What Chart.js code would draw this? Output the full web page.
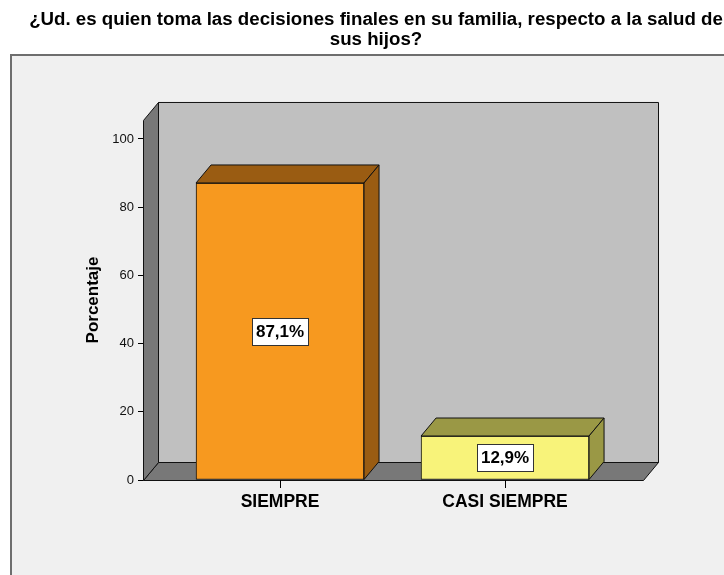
<!DOCTYPE html>
<html>
<head>
<meta charset="utf-8">
<script src="https://cdn.jsdelivr.net/npm/chart.js@4.4.1/dist/chart.umd.min.js"></script>
<style>
  body { margin: 0; background: #fff; }
  #wrap { width: 724px; height: 575px; }
</style>
</head>
<body>
<div id="wrap"><canvas id="chart"></canvas></div>
<script>
const titleLines = ['¿Ud. es quien toma las decisiones finales en su familia, respecto a la salud de', 'sus hijos?'];
const categories = ['SIEMPRE', 'CASI SIEMPRE'];
const percentages = [87.1, 12.9];
const percentLabels = ['87,1%', '12,9%'];
const yTicks = [0, 20, 40, 60, 80, 100];
const frontColors = ['#f7991f', '#f8f37a'];
const shadeColors = ['#9a5c12', '#9a9845'];

const DX = 15, DY = -18; // depth of the 3d box
const FONT = "'Liberation Sans', Arial, sans-serif";

function poly(ctx, pts, fill) {
  ctx.beginPath();
  ctx.moveTo(pts[0][0], pts[0][1]);
  for (let i = 1; i < pts.length; i++) ctx.lineTo(pts[i][0], pts[i][1]);
  ctx.closePath();
  ctx.fillStyle = fill;
  ctx.fill();
  ctx.stroke();
}

const box3d = {
  id: 'box3d',
  beforeDraw(chart) {
    const ctx = chart.ctx, a = chart.chartArea;
    ctx.save();
    // grey panel behind the chart
    ctx.fillStyle = '#f0f0f0';
    ctx.fillRect(10, 54, 800, 600);
    ctx.strokeStyle = '#6e6e6e';
    ctx.lineWidth = 2;
    ctx.strokeRect(11, 55, 800, 600);

    ctx.lineWidth = 1;
    ctx.strokeStyle = '#111';
    const L = a.left + 0.5, R = a.right + 0.5, T = a.top + 0.5, B = a.bottom + 0.5;
    poly(ctx, [[L + DX, T + DY], [R + DX, T + DY], [R + DX, B + DY], [L + DX, B + DY]], '#c0c0c0');
    poly(ctx, [[L, B], [R, B], [R + DX, B + DY], [L + DX, B + DY]], '#787878');
    poly(ctx, [[L, T], [L + DX, T + DY], [L + DX, B + DY], [L, B]], '#787878');
    ctx.restore();
  },
  afterDatasetsDraw(chart) {
    const ctx = chart.ctx;
    const meta = chart.getDatasetMeta(0);
    ctx.save();
    ctx.lineWidth = 1;
    ctx.strokeStyle = '#111';
    meta.data.forEach((bar, i) => {
      const p = bar.getProps(['x', 'y', 'base', 'width'], true);
      const x0 = p.x - p.width / 2, x1 = p.x + p.width / 2;
      // top and side faces
      poly(ctx, [[x0, p.y], [x1, p.y], [x1 + DX, p.y + DY], [x0 + DX, p.y + DY]], shadeColors[i]);
      poly(ctx, [[x1, p.y], [x1 + DX, p.y + DY], [x1 + DX, p.base + DY], [x1, p.base]], shadeColors[i]);

      // value label box
      ctx.font = 'bold 17px ' + FONT;
      const tw = ctx.measureText(percentLabels[i]).width;
      const bw = Math.round(tw + 8), bh = 27;
      const cy = (p.y + p.base) / 2;
      const bx = Math.round(p.x - bw / 2) + 0.5, by = Math.round(cy - bh / 2) + 0.5;
      ctx.fillStyle = '#fff';
      ctx.fillRect(bx, by, bw, bh);
      ctx.strokeStyle = '#333';
      ctx.strokeRect(bx, by, bw, bh);
      ctx.fillStyle = '#000';
      ctx.textAlign = 'center';
      ctx.textBaseline = 'middle';
      ctx.fillText(percentLabels[i], p.x, cy + 1);
      ctx.strokeStyle = '#111';
    });
    ctx.restore();
  }
};

new Chart(document.getElementById('chart'), {
  type: 'bar',
  data: {
    datasets: [{
      data: percentages.map((v, i) => ({ x: i, y: v })),
      backgroundColor: frontColors,
      borderColor: '#111',
      borderWidth: 1,
      borderSkipped: false,
      barThickness: 168
    }]
  },
  options: {
    responsive: true,
    maintainAspectRatio: false,
    animation: false,
    layout: { padding: { left: 28, right: 0, top: 0, bottom: 0 } },
    plugins: {
      legend: { display: false },
      tooltip: { enabled: false },
      title: {
        display: true,
        text: titleLines,
        color: '#000',
        font: { family: FONT, size: 18.7, weight: 'bold', lineHeight: 1.05 },
        padding: { top: 10, bottom: 70.7 }
      }
    },
    scales: {
      x: {
        type: 'linear',
        offset: false,
        min: -0.609,
        max: 1.613,
        afterBuildTicks: s => { s.ticks = categories.map((c, i) => ({ value: i })); },
        afterFit: s => { s.height = 95; },
        grid: { drawOnChartArea: false, offset: false, tickLength: 8, color: '#000' },
        border: { display: false },
        ticks: {
          callback: v => categories[v],
          color: '#000',
          padding: 4,
          maxRotation: 0,
          autoSkip: false,
          font: { family: FONT, size: 17.5, weight: 'bold' }
        }
      },
      y: {
        min: 0,
        max: 105.57,
        afterBuildTicks: s => { s.ticks = yTicks.map(v => ({ value: v })); },
        afterFit: s => { s.width = 115; },
        grid: { drawOnChartArea: false, tickLength: 5, color: '#000' },
        border: { display: false },
        ticks: { color: '#111', padding: 4, font: { family: FONT, size: 13 } },
        title: {
          display: true,
          text: 'Porcentaje',
          color: '#000',
          font: { family: FONT, size: 17, weight: 'bold' },
          padding: { top: 55 }
        }
      },
      y2: {
        position: 'right',
        display: true,
        afterFit: s => { s.width = 81; },
        grid: { display: false },
        border: { display: false },
        ticks: { display: false }
      }
    }
  },
  plugins: [box3d]
});
</script>
</body>
</html>
